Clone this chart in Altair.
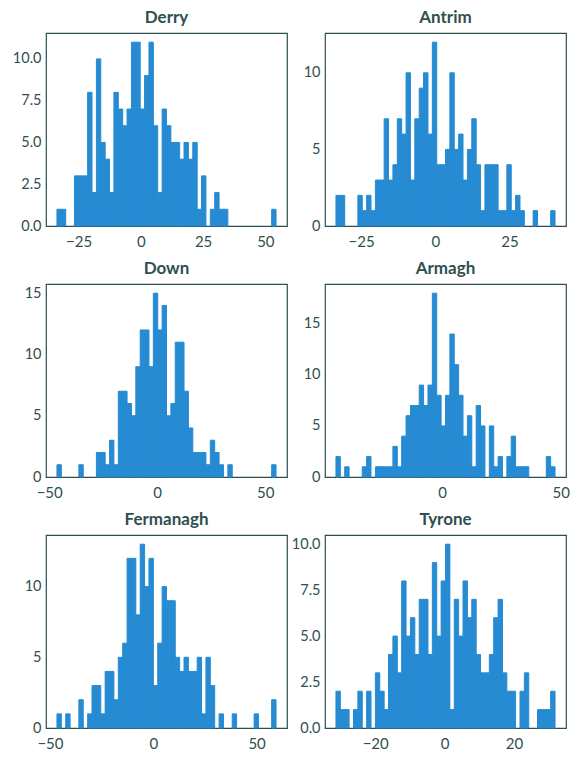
import altair as alt
import pandas as pd

BLUE = "#268BD2"
INK = "#2F4F4F"
FONT = "Lato"

names = ["Derry", "Antrim", "Down", "Armagh", "Fermanagh", "Tyrone"]
lows = [-33.7, -33.5, -46.4, -44.7, -46.6, -31.3]
highs = [54.3, 40.4, 55.0, 47.6, 59.4, 31.8]

derry = [1, 1, 0, 0, 3, 3, 3, 8, 2, 10, 5, 4, 2, 8, 7, 6, 7, 11, 11, 7,
         9, 11, 6, 2, 7, 6, 5, 5, 4, 5, 4, 5, 1, 3, 0, 1, 2, 1, 1, 0,
         0, 0, 0, 0, 0, 0, 0, 0, 0, 1]
antrim = [2, 2, 0, 0, 0, 2, 1, 2, 1, 3, 3, 7, 3, 4, 7, 6, 10, 3, 7, 9,
          10, 6, 12, 4, 4, 5, 10, 5, 6, 3, 5, 7, 4, 1, 4, 4, 4, 1, 1, 4,
          1, 2, 1, 0, 0, 1, 0, 0, 0, 1]
down = [1, 0, 0, 0, 0, 1, 0, 0, 0, 2, 2, 1, 3, 1, 7, 7, 6, 5, 9, 12,
        12, 9, 15, 12, 14, 5, 6, 11, 11, 7, 4, 2, 2, 2, 1, 3, 2, 1, 0, 1,
        0, 0, 0, 0, 0, 0, 0, 0, 0, 1]
armagh = [2, 0, 1, 0, 0, 0, 1, 2, 0, 1, 1, 1, 1, 3, 1, 4, 6, 7, 7, 9,
          7, 9, 18, 8, 5, 8, 14, 11, 8, 4, 6, 1, 7, 5, 0, 5, 1, 2, 0, 2,
          4, 1, 1, 1, 0, 0, 0, 0, 2, 1]
fermanagh = [1, 0, 1, 0, 0, 2, 0, 1, 3, 3, 1, 4, 4, 2, 5, 6, 12, 12, 8, 13,
             10, 12, 3, 6, 10, 9, 9, 5, 4, 5, 4, 4, 5, 1, 5, 3, 0, 1, 0, 0,
             1, 0, 0, 0, 0, 1, 0, 0, 0, 2]
tyrone = [2, 1, 1, 0, 1, 2, 0, 2, 0, 3, 2, 1, 4, 5, 3, 8, 5, 6, 4, 7,
          7, 4, 9, 5, 8, 10, 1, 7, 5, 8, 6, 7, 4, 3, 3, 4, 6, 7, 3, 2,
          2, 0, 2, 3, 0, 0, 1, 1, 1, 2]

counts = [derry, antrim, down, armagh, fermanagh, tyrone]
x_ticks = [[-25, 0, 25, 50], [-25, 0, 25], [-50, 0, 50], [-50, 0, 50],
           [-50, 0, 50], [-20, 0, 20]]
y_ticks = [[0, 2.5, 5, 7.5, 10], [0, 5, 10], [0, 5, 10, 15], [0, 5, 10, 15],
           [0, 5, 10], [0, 2.5, 5, 7.5, 10]]
y_formats = [".1f", "d", "d", "d", "d", ".1f"]

PW, PH = 241, 193


def panel(i):
    lo, hi = lows[i], highs[i]
    c = counts[i]
    n = len(c)
    w = (hi - lo) / n
    df = pd.DataFrame({
        "start": [lo + k * w for k in range(n)],
        "end": [lo + (k + 1) * w for k in range(n)],
        "count": c,
    })
    df = df[df["count"] > 0]
    rng = hi - lo
    xdom = [lo - 0.05 * rng, hi + 0.05 * rng]
    ydom = [0, 1.05 * max(c)]
    return alt.Chart(df, title=alt.TitleParams(
        names[i], fontSize=17, fontWeight="bold", font=FONT, color=INK,
        offset=6, anchor="middle")).mark_rect(
        color=BLUE, stroke=BLUE, strokeWidth=1, opacity=1).encode(
        x=alt.X("start:Q",
                scale=alt.Scale(domain=xdom, nice=False, zero=False),
                axis=alt.Axis(values=x_ticks[i], format="d", title=None,
                              labelFontSize=15, labelPadding=8,
                              minExtent=22, maxExtent=22)),
        x2="end:Q",
        y=alt.Y("count:Q",
                scale=alt.Scale(domain=ydom, nice=False),
                axis=alt.Axis(values=y_ticks[i], format=y_formats[i],
                              labelFontSize=14.5, labelPadding=5,
                              title=None, minExtent=36, maxExtent=36)),
        y2=alt.datum(0),
    ).properties(width=PW, height=PH)


rows = []
for r in range(3):
    rows.append(alt.hconcat(panel(2 * r), panel(2 * r + 1), spacing=0))

chart = alt.vconcat(*rows, spacing=9).configure(
    padding={"left": 9, "top": 8, "right": 0, "bottom": 0},
    background="white",
).configure_view(
    stroke=INK, strokeWidth=1.2
).configure_axis(
    domain=False, ticks=False, grid=False,
    labelFont=FONT, labelColor=INK,
)

chart.save("out.html", embed_options={"renderer": "svg", "actions": False})
